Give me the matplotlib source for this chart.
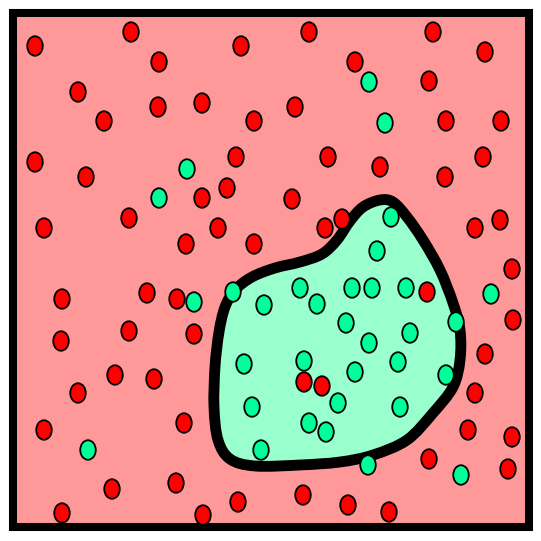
import numpy as np
import matplotlib
matplotlib.use('Agg')
import matplotlib.pyplot as plt
from matplotlib.patches import Rectangle, PathPatch
from matplotlib.path import Path
from matplotlib.collections import EllipseCollection

# point positions (pixel coords, y down)
red_x = [35, 131, 159, 241, 78, 158, 202, 104, 254, 35, 236, 86, 227, 202, 44, 129, 218, 186, 254,
         309, 433, 485, 355, 429, 295, 446, 501, 328, 380, 483, 445, 292, 342, 325, 475, 500, 512,
         62, 147, 177, 61, 129, 194, 115, 154, 78, 184, 44, 112, 176, 62, 203, 238,
         427, 304, 322, 513, 485, 475, 468, 512, 429, 508, 303, 348, 389]
red_y = [46, 32, 62, 46, 92, 107, 103, 121, 121, 162, 157, 177, 188, 198, 228, 218, 228, 244, 244,
         32, 32, 52, 62, 81, 107, 121, 121, 157, 167, 157, 177, 199, 219, 228, 228, 220, 269,
         299, 293, 299, 341, 331, 334, 375, 379, 393, 423, 430, 489, 483, 513, 515, 502,
         292, 382, 386, 320, 354, 393, 430, 437, 459, 469, 495, 505, 512]

green_x = [187, 159, 369, 385, 391, 377, 194, 233, 264, 244, 252, 261, 88,
           300, 352, 372, 406, 317, 346, 410, 369, 304, 398, 355, 338, 400, 309, 326,
           456, 446, 491, 368, 461]
green_y = [169, 198, 82, 123, 217, 251, 302, 292, 305, 364, 407, 450, 450,
           288, 288, 288, 288, 304, 323, 333, 343, 361, 362, 372, 403, 407, 423, 432,
           322, 375, 294, 465, 475]

# outline of the green region
blob_x = [380, 363, 350, 337, 322, 300, 275, 252, 235, 225, 219, 215, 214, 218, 230, 255,
          300, 340, 373, 407, 433, 453, 460, 460, 453, 440, 423, 407, 393]
blob_y = [200, 207, 221, 240, 254, 262, 268, 277, 290, 307, 332, 367, 407, 440, 459, 466,
          465, 462, 455, 440, 413, 387, 360, 330, 303, 270, 240, 217, 202]


def smooth_closed(xs, ys):
    pts = np.column_stack([xs, ys]).astype(float)
    n = len(pts)
    verts = [pts[0]]
    codes = [Path.MOVETO]
    for i in range(n):
        p0, p1, p2, p3 = pts[i - 1], pts[i], pts[(i + 1) % n], pts[(i + 2) % n]
        verts += [p1 + (p2 - p0) / 6, p2 - (p3 - p1) / 6, p2]
        codes += [Path.CURVE4] * 3
    verts.append(pts[0])
    codes.append(Path.CLOSEPOLY)
    return Path(verts, codes)


fig = plt.figure(figsize=(5.41, 5.41), dpi=100)
ax = fig.add_axes([0, 0, 1, 1])
ax.set_xlim(0, 541)
ax.set_ylim(541, 0)
ax.axis('off')

ax.add_patch(Rectangle((13, 12.5), 516, 514.5, facecolor='#ff9999', edgecolor='black', lw=5.8, zorder=1))
ax.add_patch(PathPatch(smooth_closed(blob_x, blob_y), facecolor='#99ffcc', edgecolor='black', lw=7.8,
                       joinstyle='round', zorder=2))

for xs, ys, col in [(red_x, red_y, '#ff0000'), (green_x, green_y, '#00ff99')]:
    n = len(xs)
    ec = EllipseCollection(np.full(n, 15.5), np.full(n, 19.5), np.zeros(n), units='xy',
                           offsets=np.column_stack([xs, ys]), offset_transform=ax.transData,
                           facecolors=col, edgecolors='black', linewidths=1.3, zorder=3)
    ax.add_collection(ec)

plt.savefig('out.png', dpi=100)
